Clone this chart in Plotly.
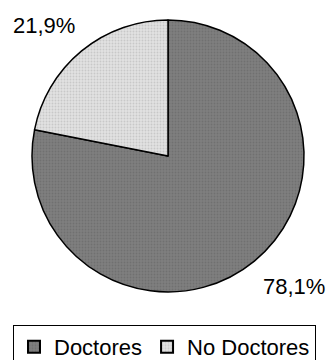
import plotly.graph_objects as go

categories = ["Doctores", "No Doctores"]
values = [78.1, 21.9]
label_texts = ["78,1%", "21,9%"]
colors = ["#7f7f7f", "#e2e2e2"]
dot_colors = ["#707070", "#c8c8c8"]

fig = go.Figure()
fig.add_trace(go.Pie(
    labels=categories,
    values=values,
    sort=False,
    direction="clockwise",
    rotation=0,
    textinfo="none",
    hoverinfo="label+percent",
    marker=dict(colors=colors, line=dict(color="#000000", width=1.5),
                pattern=dict(shape=".", fgcolor=dot_colors, bgcolor=colors,
                             fillmode="replace", size=3, solidity=0.3)),
    domain=dict(x=[(168 - 136) / 332, (168 + 136) / 332],
                y=[(360 - 156 - 136) / 360, (360 - 156 + 136) / 360]),
))

fig.add_annotation(x=43.5 / 332, y=1 - 25.5 / 360, xref="paper", yref="paper",
                   xanchor="center", yanchor="middle",
                   text=label_texts[1], showarrow=False,
                   font=dict(size=22, color="#000000"))
fig.add_annotation(x=294 / 332, y=1 - 286.5 / 360, xref="paper", yref="paper",
                   xanchor="center", yanchor="middle",
                   text=label_texts[0], showarrow=False,
                   font=dict(size=22, color="#000000"))

fig.update_layout(
    width=332, height=360,
    margin=dict(l=0, r=0, t=0, b=0, autoexpand=False),
    paper_bgcolor="#ffffff",
    plot_bgcolor="#ffffff",
    font=dict(family="Liberation Sans, Arial, sans-serif", size=22, color="#000000"),
    showlegend=True,
    legend=dict(orientation="h", x=13 / 332, y=1 - 325 / 360,
                xanchor="left", yanchor="top",
                bordercolor="#000000", borderwidth=1,
                font=dict(size=22), itemsizing="constant",
                tracegroupgap=0),
)

fig.write_html("out.html", config={"displayModeBar": False},
               post_script="document.body.style.margin='0';document.body.style.overflow='hidden';")
